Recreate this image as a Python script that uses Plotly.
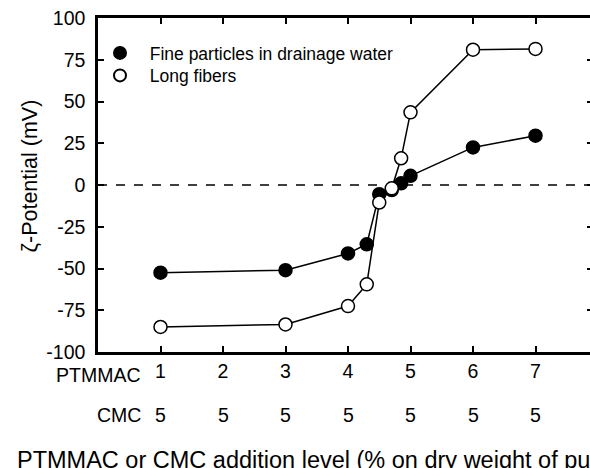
import plotly.graph_objects as go

# ---- data ----
fine_x = [1, 3, 4, 4.3, 4.5, 4.7, 4.85, 5, 6, 7]
fine_y = [-52.5, -51, -41, -35.5, -5.5, -3, 1, 5.5, 22.5, 29.5]
long_x = [1, 3, 4, 4.3, 4.5, 4.7, 4.85, 5, 6, 7]
long_y = [-85, -83.5, -72.5, -59.5, -10.5, -2, 16, 43.5, 81, 81.5]

tick_pos = [1, 2, 3, 4, 5, 6, 7]
ptmmac_labels = ["1", "2", "3", "4", "5", "6", "7"]
cmc_labels = ["5", "5", "5", "5", "5", "5", "5"]
y_ticks = [100, 75, 50, 25, 0, -25, -50, -75, -100]
y_ticktext = ["100", "75", "50", "25", "0", "-25", "-50", "-75", "-100"]

FONT = "Liberation Sans, Arial, sans-serif"
W, H = 590, 468
ML, MT, MB = 98, 18, 116
XMAX = (W - ML) / 62.5
TICKFS = 19.5

plot_h = H - MT - MB
def py(pix):
    return (H - MB - pix) / plot_h
def px(pix):
    return (pix - ML) / (W - ML)

fig = go.Figure()

fig.add_trace(go.Scatter(
    x=fine_x, y=fine_y, mode="lines+markers", showlegend=False,
    line=dict(color="black", width=1.5),
    marker=dict(symbol="circle", size=13, color="black", line=dict(color="black", width=1.5)),
))
fig.add_trace(go.Scatter(
    x=long_x, y=long_y, mode="lines+markers", showlegend=False,
    line=dict(color="black", width=1.5),
    marker=dict(symbol="circle", size=13, color="white", line=dict(color="black", width=1.5)),
))
# legend-only entries (markers only)
fig.add_trace(go.Scatter(
    x=[None], y=[None], mode="markers", name="&nbsp;&nbsp;Fine particles in drainage water",
    legend="legend",
    marker=dict(symbol="circle", size=14, color="black", line=dict(color="black", width=1.5)),
))
fig.add_trace(go.Scatter(
    x=[None], y=[None], mode="markers", name="&nbsp;&nbsp;Long fibers",
    legend="legend2",
    marker=dict(symbol="circle", size=14, color="white", line=dict(color="black", width=1.5)),
))
# invisible trace to activate right-side tick axis
fig.add_trace(go.Scatter(x=[None], y=[None], yaxis="y2", showlegend=False, hoverinfo="skip"))

# zero dashed line
fig.add_shape(type="line", xref="paper", x0=0, x1=1, yref="y", y0=0, y1=0,
              line=dict(color="black", width=1.5, dash="dash"), layer="below")

# CMC row labels
for xp, lab in zip(tick_pos, cmc_labels):
    fig.add_annotation(x=xp, xref="x", y=py(415), yref="paper",
                       text=lab, showarrow=False, yanchor="middle", xanchor="center",
                       font=dict(family=FONT, size=TICKFS, color="black"))

fig.add_annotation(x=px(143), xref="paper", y=py(375), yref="paper", text="PTMMAC",
                   showarrow=False, xanchor="right", yanchor="middle",
                   font=dict(family=FONT, size=TICKFS, color="black"))
fig.add_annotation(x=px(143), xref="paper", y=py(415), yref="paper", text="CMC",
                   showarrow=False, xanchor="right", yanchor="middle",
                   font=dict(family=FONT, size=TICKFS, color="black"))
fig.add_annotation(x=px(15), xref="paper", y=py(460), yref="paper",
                   text="PTMMAC or CMC addition level (% on dry weight of pulp)",
                   showarrow=False, xanchor="left", yanchor="middle",
                   font=dict(family=FONT, size=23.5, color="black"))
fig.add_annotation(x=px(29), xref="paper", y=py(176.5), yref="paper",
                   text="ζ-Potential (mV)", textangle=-90,
                   showarrow=False, xanchor="center", yanchor="middle",
                   font=dict(family=FONT, size=21.5, color="black"))

leg_common = dict(xanchor="left", yanchor="middle", bgcolor="rgba(0,0,0,0)",
                  font=dict(family=FONT, size=17.5, color="black"), itemsizing="constant")

fig.update_layout(
    width=W, height=H,
    margin=dict(l=ML, r=0, t=MT, b=MB, pad=0),
    paper_bgcolor="white", plot_bgcolor="white",
    font=dict(family=FONT, size=TICKFS, color="black"),
    legend=dict(x=px(100), y=py(53), **leg_common),
    legend2=dict(x=px(100), y=py(75.5), **leg_common),
    xaxis=dict(range=[0, XMAX], tickvals=tick_pos, ticktext=ptmmac_labels,
               ticks="inside", ticklen=6, tickwidth=2, tickcolor="black",
               showline=True, linewidth=2.5, linecolor="black", mirror="ticks",
               showgrid=False, zeroline=False,
               tickfont=dict(family=FONT, size=TICKFS, color="black")),
    yaxis=dict(range=[-100, 100], tickvals=y_ticks, ticktext=y_ticktext,
               ticks="inside", ticklen=6, tickwidth=2, tickcolor="black",
               showline=True, linewidth=2.5, linecolor="black", mirror=False,
               showgrid=False, zeroline=False, ticklabelstandoff=6,
               tickfont=dict(family=FONT, size=TICKFS, color="black")),
    yaxis2=dict(range=[-100, 100], tickvals=y_ticks, overlaying="y", side="right",
                ticks="inside", ticklen=3, tickwidth=2, tickcolor="black",
                showline=False, showgrid=False, zeroline=False, showticklabels=False),
)

fig.write_html("out.html")
